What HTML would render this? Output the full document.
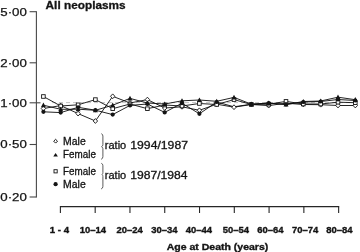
<!DOCTYPE html>
<html><head><meta charset="utf-8"><title>All neoplasms</title>
<style>
html,body{margin:0;padding:0;background:#fff;}
body{width:360px;height:252px;overflow:hidden;position:relative;}
svg{position:absolute;left:0;top:0;display:block;filter:blur(0.3px);}
text{font-family:"Liberation Sans","DejaVu Sans",sans-serif;fill:#141414;}
.yl{font-size:11.6px;stroke:#141414;stroke-width:0.25px;}
.xl{font-size:9.4px;font-weight:bold;stroke:#141414;stroke-width:0.35px;}
.ttl{font-size:11px;font-weight:bold;stroke:#141414;stroke-width:0.3px;}
.lg{font-size:10px;stroke:#141414;stroke-width:0.3px;}
.dg{stroke-width:0.28px;}
.xt{font-size:9.5px;font-weight:bold;stroke:#141414;stroke-width:0.35px;}
</style></head><body>
<svg width="360" height="252" viewBox="0 0 360 252">
<rect width="360" height="252" fill="#fff"/>
<g stroke="#484848" stroke-width="1.1" fill="none">
<path d="M36.4,11.2 V197.5"/>
<path d="M29.6,11.7 H36.4"/>
<path d="M29.6,62.8 H36.4"/>
<path d="M29.6,102.8 H40.5"/>
<path d="M29.6,144.5 H36.4"/>
<path d="M29.6,197 H36.4"/>
</g>
<g stroke="#262626" stroke-width="1.1" fill="none">
<path d="M59.9,206.6 H339.2"/>
<path d="M60.40,206.6 V213"/>
<path d="M95.18,206.6 V213"/>
<path d="M129.96,206.6 V213"/>
<path d="M164.74,206.6 V213"/>
<path d="M199.52,206.6 V213"/>
<path d="M234.30,206.6 V213"/>
<path d="M269.08,206.6 V213"/>
<path d="M303.86,206.6 V213"/>
<path d="M338.64,206.6 V213"/>
</g>
<path d="M52,102.6 H355" stroke="#aaa" stroke-width="0.7" stroke-dasharray="4 3"/>
<g fill="none" stroke="#0c0c0c" stroke-width="0.9">
<polyline points="43.4,108.5 60.7,105.6 78.1,113.6 95.4,121.0 112.7,96.3 130.0,103.0 147.4,99.6 164.7,108.0 182.0,106.8 199.4,110.3 216.7,104.2 234.0,107.2 251.4,104.5 268.7,105.6 286.0,103.2 303.3,104.5 320.7,104.7 338.0,105.5 355.3,105.5"/>
<polyline points="43.4,105.2 60.7,109.3 78.1,109.2 95.4,110.3 112.7,105.2 130.0,98.4 147.4,103.0 164.7,104.0 182.0,100.8 199.4,100.0 216.7,101.3 234.0,97.4 251.4,104.2 268.7,103.0 286.0,104.6 303.3,101.5 320.7,101.0 338.0,97.2 355.3,99.7"/>
<polyline points="43.4,96.5 60.7,106.0 78.1,104.8 95.4,99.6 112.7,108.7 130.0,104.0 147.4,108.7 164.7,105.0 182.0,106.0 199.4,103.5 216.7,104.5 234.0,99.6 251.4,104.5 268.7,104.2 286.0,101.4 303.3,104.0 320.7,104.0 338.0,102.2 355.3,102.7"/>
<polyline points="43.4,111.8 60.7,112.6 78.1,107.3 95.4,110.2 112.7,114.6 130.0,105.4 147.4,104.0 164.7,112.4 182.0,103.2 199.4,113.8 216.7,102.0 234.0,106.8 251.4,104.2 268.7,103.2 286.0,104.4 303.3,102.0 320.7,101.5 338.0,99.5 355.3,100.5"/>
</g>
<path d="M43.4,106.1 L45.6,108.5 L43.4,110.9 L41.2,108.5Z" fill="#fff" stroke="#141414" stroke-width="0.9"/>
<path d="M60.7,103.2 L62.9,105.6 L60.7,108.0 L58.5,105.6Z" fill="#fff" stroke="#141414" stroke-width="0.9"/>
<path d="M78.1,111.2 L80.3,113.6 L78.1,116.0 L75.9,113.6Z" fill="#fff" stroke="#141414" stroke-width="0.9"/>
<path d="M95.4,118.6 L97.6,121.0 L95.4,123.4 L93.2,121.0Z" fill="#fff" stroke="#141414" stroke-width="0.9"/>
<path d="M112.7,93.9 L114.9,96.3 L112.7,98.7 L110.5,96.3Z" fill="#fff" stroke="#141414" stroke-width="0.9"/>
<path d="M130.0,100.6 L132.2,103.0 L130.0,105.4 L127.8,103.0Z" fill="#fff" stroke="#141414" stroke-width="0.9"/>
<path d="M147.4,97.2 L149.6,99.6 L147.4,102.0 L145.2,99.6Z" fill="#fff" stroke="#141414" stroke-width="0.9"/>
<path d="M164.7,105.6 L166.9,108.0 L164.7,110.4 L162.5,108.0Z" fill="#fff" stroke="#141414" stroke-width="0.9"/>
<path d="M182.0,104.4 L184.2,106.8 L182.0,109.2 L179.8,106.8Z" fill="#fff" stroke="#141414" stroke-width="0.9"/>
<path d="M199.4,107.9 L201.6,110.3 L199.4,112.7 L197.2,110.3Z" fill="#fff" stroke="#141414" stroke-width="0.9"/>
<path d="M216.7,101.8 L218.9,104.2 L216.7,106.6 L214.5,104.2Z" fill="#fff" stroke="#141414" stroke-width="0.9"/>
<path d="M234.0,104.8 L236.2,107.2 L234.0,109.6 L231.8,107.2Z" fill="#fff" stroke="#141414" stroke-width="0.9"/>
<path d="M251.4,102.1 L253.6,104.5 L251.4,106.9 L249.2,104.5Z" fill="#fff" stroke="#141414" stroke-width="0.9"/>
<path d="M268.7,103.2 L270.9,105.6 L268.7,108.0 L266.5,105.6Z" fill="#fff" stroke="#141414" stroke-width="0.9"/>
<path d="M286.0,100.8 L288.2,103.2 L286.0,105.6 L283.8,103.2Z" fill="#fff" stroke="#141414" stroke-width="0.9"/>
<path d="M303.3,102.1 L305.5,104.5 L303.3,106.9 L301.1,104.5Z" fill="#fff" stroke="#141414" stroke-width="0.9"/>
<path d="M320.7,102.3 L322.9,104.7 L320.7,107.1 L318.5,104.7Z" fill="#fff" stroke="#141414" stroke-width="0.9"/>
<path d="M338.0,103.1 L340.2,105.5 L338.0,107.9 L335.8,105.5Z" fill="#fff" stroke="#141414" stroke-width="0.9"/>
<path d="M355.3,103.1 L357.5,105.5 L355.3,107.9 L353.1,105.5Z" fill="#fff" stroke="#141414" stroke-width="0.9"/>
<rect x="41.6" y="94.7" width="3.6" height="3.6" fill="#fff" stroke="#141414" stroke-width="0.9"/>
<rect x="58.9" y="104.2" width="3.6" height="3.6" fill="#fff" stroke="#141414" stroke-width="0.9"/>
<rect x="76.3" y="103.0" width="3.6" height="3.6" fill="#fff" stroke="#141414" stroke-width="0.9"/>
<rect x="93.6" y="97.8" width="3.6" height="3.6" fill="#fff" stroke="#141414" stroke-width="0.9"/>
<rect x="110.9" y="106.9" width="3.6" height="3.6" fill="#fff" stroke="#141414" stroke-width="0.9"/>
<rect x="128.2" y="102.2" width="3.6" height="3.6" fill="#fff" stroke="#141414" stroke-width="0.9"/>
<rect x="145.6" y="106.9" width="3.6" height="3.6" fill="#fff" stroke="#141414" stroke-width="0.9"/>
<rect x="162.9" y="103.2" width="3.6" height="3.6" fill="#fff" stroke="#141414" stroke-width="0.9"/>
<rect x="180.2" y="104.2" width="3.6" height="3.6" fill="#fff" stroke="#141414" stroke-width="0.9"/>
<rect x="197.6" y="101.7" width="3.6" height="3.6" fill="#fff" stroke="#141414" stroke-width="0.9"/>
<rect x="214.9" y="102.7" width="3.6" height="3.6" fill="#fff" stroke="#141414" stroke-width="0.9"/>
<rect x="232.2" y="97.8" width="3.6" height="3.6" fill="#fff" stroke="#141414" stroke-width="0.9"/>
<rect x="249.6" y="102.7" width="3.6" height="3.6" fill="#fff" stroke="#141414" stroke-width="0.9"/>
<rect x="266.9" y="102.4" width="3.6" height="3.6" fill="#fff" stroke="#141414" stroke-width="0.9"/>
<rect x="284.2" y="99.6" width="3.6" height="3.6" fill="#fff" stroke="#141414" stroke-width="0.9"/>
<rect x="301.5" y="102.2" width="3.6" height="3.6" fill="#fff" stroke="#141414" stroke-width="0.9"/>
<rect x="318.9" y="102.2" width="3.6" height="3.6" fill="#fff" stroke="#141414" stroke-width="0.9"/>
<rect x="336.2" y="100.4" width="3.6" height="3.6" fill="#fff" stroke="#141414" stroke-width="0.9"/>
<rect x="353.5" y="100.9" width="3.6" height="3.6" fill="#fff" stroke="#141414" stroke-width="0.9"/>
<path d="M43.4,102.6 L45.9,107.2 L40.9,107.2Z" fill="#141414"/>
<path d="M60.7,106.7 L63.2,111.3 L58.2,111.3Z" fill="#141414"/>
<path d="M78.1,106.6 L80.6,111.2 L75.6,111.2Z" fill="#141414"/>
<path d="M95.4,107.7 L97.9,112.3 L92.9,112.3Z" fill="#141414"/>
<path d="M112.7,102.6 L115.2,107.2 L110.2,107.2Z" fill="#141414"/>
<path d="M130.0,95.8 L132.5,100.4 L127.5,100.4Z" fill="#141414"/>
<path d="M147.4,100.4 L149.9,105.0 L144.9,105.0Z" fill="#141414"/>
<path d="M164.7,101.4 L167.2,106.0 L162.2,106.0Z" fill="#141414"/>
<path d="M182.0,98.2 L184.5,102.8 L179.5,102.8Z" fill="#141414"/>
<path d="M199.4,97.4 L201.9,102.0 L196.9,102.0Z" fill="#141414"/>
<path d="M216.7,98.7 L219.2,103.3 L214.2,103.3Z" fill="#141414"/>
<path d="M234.0,94.8 L236.5,99.4 L231.5,99.4Z" fill="#141414"/>
<path d="M251.4,101.6 L253.9,106.2 L248.9,106.2Z" fill="#141414"/>
<path d="M268.7,100.4 L271.2,105.0 L266.2,105.0Z" fill="#141414"/>
<path d="M286.0,102.0 L288.5,106.6 L283.5,106.6Z" fill="#141414"/>
<path d="M303.3,98.9 L305.8,103.5 L300.8,103.5Z" fill="#141414"/>
<path d="M320.7,98.4 L323.2,103.0 L318.2,103.0Z" fill="#141414"/>
<path d="M338.0,94.6 L340.5,99.2 L335.5,99.2Z" fill="#141414"/>
<path d="M355.3,97.1 L357.8,101.7 L352.8,101.7Z" fill="#141414"/>
<circle cx="43.4" cy="111.8" r="2.1" fill="#141414"/>
<circle cx="60.7" cy="112.6" r="2.1" fill="#141414"/>
<circle cx="78.1" cy="107.3" r="2.1" fill="#141414"/>
<circle cx="95.4" cy="110.2" r="2.1" fill="#141414"/>
<circle cx="112.7" cy="114.6" r="2.1" fill="#141414"/>
<circle cx="130.0" cy="105.4" r="2.1" fill="#141414"/>
<circle cx="147.4" cy="104.0" r="2.1" fill="#141414"/>
<circle cx="164.7" cy="112.4" r="2.1" fill="#141414"/>
<circle cx="182.0" cy="103.2" r="2.1" fill="#141414"/>
<circle cx="199.4" cy="113.8" r="2.1" fill="#141414"/>
<circle cx="216.7" cy="102.0" r="2.1" fill="#141414"/>
<circle cx="251.4" cy="104.2" r="2.1" fill="#141414"/>
<circle cx="268.7" cy="103.2" r="2.1" fill="#141414"/>
<circle cx="286.0" cy="104.4" r="2.1" fill="#141414"/>
<circle cx="303.3" cy="102.0" r="2.1" fill="#141414"/>
<circle cx="320.7" cy="101.5" r="2.1" fill="#141414"/>
<circle cx="338.0" cy="99.5" r="2.1" fill="#141414"/>
<circle cx="355.3" cy="100.5" r="2.1" fill="#141414"/>
<text x="0.3" y="15.6" class="yl" textLength="26.6" lengthAdjust="spacingAndGlyphs">5·00</text>
<text x="0.3" y="66.7" class="yl" textLength="26.6" lengthAdjust="spacingAndGlyphs">2·00</text>
<text x="0.3" y="106.7" class="yl" textLength="26.6" lengthAdjust="spacingAndGlyphs">1·00</text>
<text x="0.3" y="148.4" class="yl" textLength="26.6" lengthAdjust="spacingAndGlyphs">0·50</text>
<text x="0.3" y="200.9" class="yl" textLength="26.6" lengthAdjust="spacingAndGlyphs">0·20</text>
<text x="49.8" y="232.5" class="xl" textLength="19.3" lengthAdjust="spacingAndGlyphs">1 - 4</text>
<text x="79.8" y="232.5" class="xl" textLength="26.3" lengthAdjust="spacingAndGlyphs">10–14</text>
<text x="116.5" y="232.5" class="xl" textLength="26.3" lengthAdjust="spacingAndGlyphs">20–24</text>
<text x="151.2" y="232.5" class="xl" textLength="26.3" lengthAdjust="spacingAndGlyphs">30–34</text>
<text x="185.8" y="232.5" class="xl" textLength="26.3" lengthAdjust="spacingAndGlyphs">40–44</text>
<text x="222.8" y="232.5" class="xl" textLength="26.3" lengthAdjust="spacingAndGlyphs">50–54</text>
<text x="257.2" y="232.5" class="xl" textLength="26.3" lengthAdjust="spacingAndGlyphs">60–64</text>
<text x="291.9" y="232.5" class="xl" textLength="26.3" lengthAdjust="spacingAndGlyphs">70–74</text>
<text x="326.2" y="232.5" class="xl" textLength="26.3" lengthAdjust="spacingAndGlyphs">80–84</text>
<text x="45.6" y="8.7" class="ttl" textLength="80" lengthAdjust="spacingAndGlyphs">All neoplasms</text>
<path d="M55.6,139.3 L57.5,141.2 L55.6,143.1 L53.7,141.2Z" fill="#fff" stroke="#141414" stroke-width="1.0"/>
<path d="M55.6,152.9 L57.9,156.4 L53.3,156.4Z" fill="#141414"/>
<rect x="54.0" y="169.7" width="3.2" height="3.2" fill="#fff" stroke="#141414" stroke-width="0.9"/>
<circle cx="55.6" cy="184.2" r="2.1" fill="#141414"/>
<text x="63.1" y="144.5" class="lg" textLength="22.6" lengthAdjust="spacingAndGlyphs">Male</text>
<text x="63.1" y="158.3" class="lg" textLength="32.8" lengthAdjust="spacingAndGlyphs">Female</text>
<text x="63.1" y="174.5" class="lg" textLength="32.8" lengthAdjust="spacingAndGlyphs">Female</text>
<text x="63.1" y="187.7" class="lg" textLength="22.6" lengthAdjust="spacingAndGlyphs">Male</text>
<path d="M101.30000000000001,133.7 q1.6,0.5 1.6,2.4 V144.7 q0,1.4 -1.4,2 q1.4,0.6 1.4,2 V156.70000000000002 q0,2 -1.8,2.6" fill="none" stroke="#333" stroke-width="0.8"/>
<path d="M101.30000000000001,163.3 q1.6,0.5 1.6,2.4 V172.5 q0,1.4 -0.8,2 q0.8,0.6 0.8,2 V186.4 q0,2 -1.8,2.6" fill="none" stroke="#333" stroke-width="0.8"/>
<text x="104.8" y="148.8" class="lg"><tspan textLength="21.4" lengthAdjust="spacingAndGlyphs">ratio</tspan> <tspan x="130.3" class="dg" textLength="57.7" lengthAdjust="spacingAndGlyphs">1994/1987</tspan></text>
<text x="104.8" y="178.7" class="lg"><tspan textLength="21.4" lengthAdjust="spacingAndGlyphs">ratio</tspan> <tspan x="130.3" class="dg" textLength="57.3" lengthAdjust="spacingAndGlyphs">1987/1984</tspan></text>
<text x="166.7" y="249.7" class="xt" textLength="101.6" lengthAdjust="spacingAndGlyphs">Age at Death (years)</text>
</svg>
</body></html>
